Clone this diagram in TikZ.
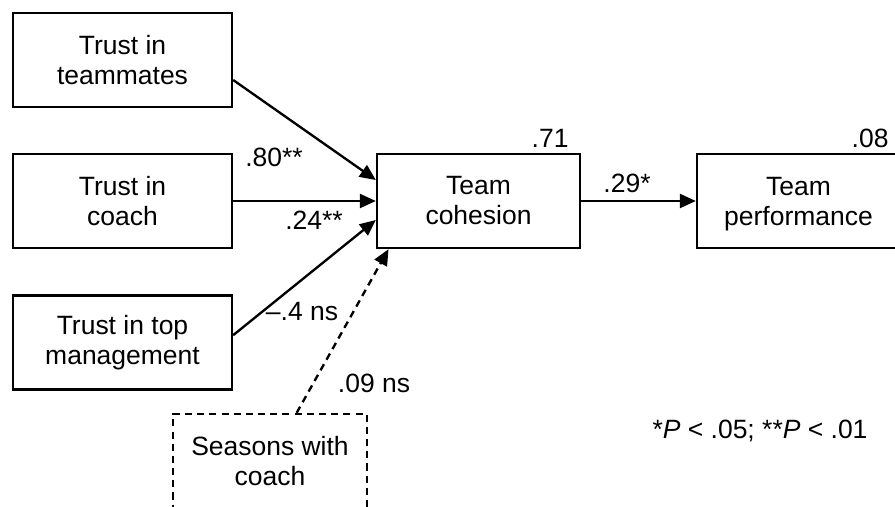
\documentclass[tikz,border=0pt]{standalone}
\usepackage{fontspec}
\setmainfont{Liberation Sans}
\usetikzlibrary{arrows.meta}

\begin{document}
\begin{tikzpicture}[
  x=0.015cm, y=-0.015cm,
  font=\fontsize{11.3}{12.8}\selectfont,
  var/.style={draw, line width=1pt, minimum width=3.285cm, minimum height=1.41cm,
              inner sep=0pt, align=center},
  outcome/.style={var, minimum width=3.045cm},
  moderator/.style={var, minimum width=2.91cm, dash pattern=on 3pt off 2.2pt},
  path/.style={-{Triangle[length=2.4mm, width=2.1mm]}, line width=1pt},
  coef/.style={inner sep=0pt}
]
  \path[use as bounding box] (0,0) rectangle (895,506);
  \clip (0,0) rectangle (895,506);

  % predictors
  \node[var] (mates) at (122.5,60)    {Trust in\\teammates};
  \node[var] (coach) at (122.5,201)   {Trust in\\coach};
  \node[var] (mgmt)  at (122.5,342.5) {Trust in top\\management};
  \node[moderator] (seasons) at (270,461) {Seasons with\\coach};

  % outcomes
  \node[outcome] (cohesion) at (478.5,201) {Team\\cohesion};
  \node[outcome] (perf)     at (798.5,201) {Team\\\smash{performance}};

  \draw[path] ([yshift=-0.3cm]mates.east) -- ([yshift=0.315cm]cohesion.west);
  \draw[path] (coach) -- (cohesion);
  \draw[path] ([yshift=0.11cm]mgmt.east) -- ([yshift=-0.285cm]cohesion.west);
  \draw[path, dash pattern=on 3pt off 2.2pt] ([xshift=0.4cm]seasons.north) -- ([xshift=-1.35cm]cohesion.south);
  \draw[path] (cohesion) -- (perf);

  % coefficients
  \node[coef] (c80) at (274,157) {.80**};
  \node[coef] (c24) at (314,220) {.24**};
  \node[coef] (c04) at (302,312) {--.4 ns};
  \node[coef] (c09) at (374,383) {.09 ns};
  \node[coef] (c29) at (627,183) {.29*};
  \node[coef, anchor=east] (r71) at (569,138.5) {.71};
  \node[coef, anchor=east] (r08) at (889,138.5) {.08};

  \node[coef, anchor=base] (legend) at (760,438) {*\textit{P} < .05; **\textit{P} < .01};
\end{tikzpicture}
\end{document}
